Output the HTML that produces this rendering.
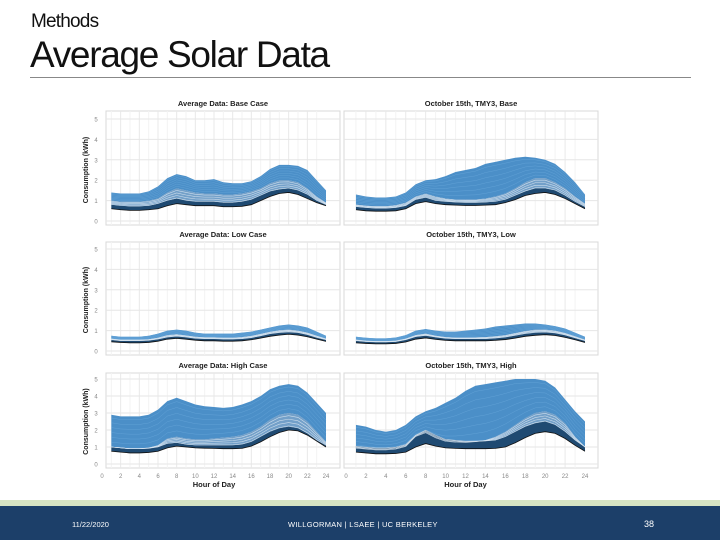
<!DOCTYPE html>
<html><head><meta charset="utf-8"><style>
body{margin:0;width:720px;height:540px;overflow:hidden;background:#fff;font-family:"Liberation Sans",sans-serif;position:relative}
.t1{position:absolute;left:31px;top:11px;font-size:19px;color:#111;letter-spacing:-0.8px}
.t2{position:absolute;left:30px;top:34px;font-size:37px;color:#111;letter-spacing:-1.3px}
.rule{position:absolute;left:30px;top:77px;width:661px;height:1px;background:#888}
.green{position:absolute;left:0;top:500px;width:720px;height:6px;background:#d6e3c3}
.foot{position:absolute;left:0;top:506px;width:720px;height:34px;background:#1c3f69;color:#fff;font-size:7.5px}
</style></head><body>
<div class="t1">Methods</div>
<div class="t2">Average Solar Data</div>
<div class="rule"></div>
<svg id="c" width="720" height="500" style="position:absolute;left:0;top:0"></svg>
<div class="green"></div>
<div class="foot">
<span style="position:absolute;left:72px;top:14px">11/22/2020</span>
<span style="position:absolute;left:288px;top:14px;letter-spacing:0.3px">WILLGORMAN | LSAEE | UC BERKELEY</span>
<span style="position:absolute;left:644px;top:13px;font-size:9px">38</span>
</div>
<script>
const hours=[1,2,3,4,5,6,7,8,9,10,11,12,13,14,15,16,17,18,19,20,21,22,23,24];
const xTicks=[0,2,4,6,8,10,12,14,16,18,20,22,24];
const yTicks=[0,1,2,3,4,5];
const titles=["Average Data: Base Case","October 15th, TMY3, Base","Average Data: Low Case","October 15th, TMY3, Low","Average Data: High Case","October 15th, TMY3, High"];
const baseAvgUpper=[1.4,1.35,1.35,1.35,1.45,1.7,2.1,2.3,2.2,2.0,2.0,2.05,1.9,1.85,1.85,1.95,2.2,2.55,2.75,2.75,2.7,2.5,2.0,1.5];
const baseAvgLower=[1.0,0.95,0.95,0.95,1.0,1.1,1.4,1.6,1.5,1.4,1.35,1.35,1.3,1.3,1.35,1.45,1.6,1.85,2.0,2.0,1.9,1.6,1.2,0.9];
const baseAvgDarkTop=[0.8,0.75,0.72,0.72,0.75,0.85,1.0,1.1,1.0,0.95,0.95,0.95,0.9,0.9,0.95,1.05,1.25,1.45,1.55,1.6,1.5,1.3,1.0,0.8];
const baseAvgDarkBot=[0.6,0.55,0.52,0.52,0.55,0.6,0.75,0.85,0.8,0.75,0.75,0.75,0.7,0.7,0.72,0.8,1.0,1.2,1.35,1.4,1.3,1.1,0.9,0.75];
const baseOctUpper=[1.3,1.2,1.15,1.15,1.2,1.4,1.8,2.0,2.05,2.2,2.4,2.5,2.6,2.8,2.9,3.0,3.1,3.15,3.1,3.0,2.8,2.4,1.9,1.3];
const baseOctLower=[0.8,0.75,0.72,0.72,0.78,0.9,1.2,1.35,1.2,1.1,1.05,1.05,1.05,1.1,1.2,1.35,1.6,1.9,2.1,2.1,1.9,1.6,1.2,0.85];
const baseOctDarkTop=[0.7,0.65,0.62,0.62,0.65,0.75,1.05,1.15,1.0,0.95,0.92,0.9,0.9,0.92,0.95,1.05,1.25,1.45,1.6,1.6,1.5,1.25,0.95,0.7];
const baseOctDarkBot=[0.55,0.5,0.48,0.48,0.5,0.6,0.85,0.95,0.85,0.8,0.78,0.76,0.76,0.78,0.8,0.9,1.05,1.25,1.35,1.4,1.3,1.1,0.85,0.6];
const lowAvgUpper=[0.75,0.7,0.7,0.7,0.75,0.85,1.0,1.05,1.0,0.9,0.85,0.85,0.85,0.85,0.9,0.95,1.05,1.15,1.25,1.3,1.25,1.15,0.95,0.75];
const lowAvgLower=[0.6,0.55,0.55,0.55,0.57,0.65,0.78,0.82,0.76,0.7,0.67,0.67,0.65,0.65,0.68,0.74,0.84,0.94,1.02,1.05,1.0,0.9,0.75,0.6];
const lowAvgDarkTop=[0.55,0.5,0.5,0.5,0.52,0.58,0.68,0.72,0.68,0.62,0.6,0.6,0.58,0.58,0.6,0.65,0.74,0.84,0.9,0.93,0.9,0.8,0.66,0.55];
const lowAvgDarkBot=[0.45,0.42,0.4,0.4,0.42,0.48,0.58,0.62,0.58,0.53,0.5,0.5,0.48,0.48,0.5,0.55,0.63,0.72,0.78,0.82,0.78,0.7,0.58,0.47];
const lowOctUpper=[0.7,0.65,0.62,0.62,0.66,0.78,1.0,1.08,1.0,0.95,0.95,1.0,1.05,1.1,1.2,1.25,1.3,1.35,1.35,1.3,1.22,1.1,0.9,0.7];
const lowOctLower=[0.55,0.5,0.48,0.48,0.5,0.6,0.78,0.85,0.75,0.68,0.65,0.65,0.66,0.68,0.72,0.78,0.88,0.98,1.05,1.05,1.0,0.88,0.72,0.55];
const lowOctDarkTop=[0.5,0.46,0.44,0.44,0.46,0.55,0.7,0.76,0.68,0.62,0.6,0.6,0.6,0.6,0.63,0.68,0.76,0.85,0.9,0.92,0.88,0.78,0.64,0.5];
const lowOctDarkBot=[0.4,0.37,0.35,0.35,0.37,0.44,0.58,0.64,0.57,0.52,0.5,0.5,0.5,0.5,0.52,0.56,0.63,0.72,0.77,0.8,0.76,0.67,0.55,0.42];
const highAvgUpper=[2.9,2.8,2.8,2.8,2.9,3.2,3.7,3.9,3.7,3.5,3.4,3.35,3.3,3.35,3.5,3.7,4.0,4.4,4.6,4.7,4.6,4.2,3.6,3.0];
const highAvgLower=[1.0,0.95,0.9,0.9,0.95,1.1,1.5,1.6,1.5,1.45,1.45,1.5,1.55,1.6,1.7,1.9,2.2,2.6,2.9,3.0,2.9,2.5,1.9,1.3];
const highAvgDarkTop=[1.0,0.95,0.9,0.9,0.92,1.0,1.2,1.25,1.15,1.1,1.1,1.1,1.1,1.1,1.15,1.3,1.6,1.9,2.1,2.2,2.1,1.8,1.4,1.1];
const highAvgDarkBot=[0.75,0.7,0.65,0.65,0.68,0.75,0.95,1.05,1.0,0.95,0.93,0.92,0.9,0.9,0.92,1.05,1.3,1.6,1.85,2.0,1.95,1.7,1.35,1.0];
const highOctUpper=[2.3,2.2,2.0,1.9,2.0,2.3,2.8,3.1,3.3,3.6,3.9,4.3,4.6,4.7,4.8,4.9,5.0,5.0,5.0,4.9,4.5,3.8,3.1,2.5];
const highOctLower=[0.9,0.85,0.8,0.8,0.85,1.0,1.6,1.8,1.5,1.3,1.25,1.25,1.3,1.4,1.6,1.9,2.3,2.7,3.0,3.1,2.9,2.4,1.6,1.0];
const highOctDarkTop=[1.05,1.0,0.95,0.95,1.0,1.15,1.7,2.0,1.7,1.45,1.4,1.35,1.35,1.35,1.4,1.6,1.9,2.2,2.4,2.5,2.3,1.9,1.4,1.0];
const highOctDarkBot=[0.7,0.65,0.6,0.6,0.62,0.7,1.0,1.2,1.05,0.95,0.92,0.9,0.9,0.9,0.92,1.0,1.25,1.55,1.8,1.9,1.8,1.5,1.1,0.75];

const series=[
 [baseAvgUpper,baseAvgLower,baseAvgDarkTop,baseAvgDarkBot],
 [baseOctUpper,baseOctLower,baseOctDarkTop,baseOctDarkBot],
 [lowAvgUpper,lowAvgLower,lowAvgDarkTop,lowAvgDarkBot],
 [lowOctUpper,lowOctLower,lowOctDarkTop,lowOctDarkBot],
 [highAvgUpper,highAvgLower,highAvgDarkTop,highAvgDarkBot],
 [highOctUpper,highOctLower,highOctDarkTop,highOctDarkBot]];
const cols=[{x0:102,x1:326,bl:106,br:340},{x0:346,x1:585,bl:344,br:598}];
const rows=[{y0:221,y5:119,top:111,bot:225,title:106},{y0:351,y5:249,top:242,bot:355,title:237},{y0:464,y5:379,top:373,bot:468,title:368}];
const svg=document.getElementById('c');const NS='http://www.w3.org/2000/svg';
function mk(t,a,p){const e=document.createElementNS(NS,t);for(const k in a)e.setAttribute(k,a[k]);(p||svg).appendChild(e);return e;}
function txt(s,a){const e=mk('text',a);e.textContent=s;return e;}
for(let r=0;r<3;r++)for(let c=0;c<2;c++){
 const i=r*2+c,C=cols[c],R=rows[r];
 const xs=h=>C.x0+(C.x1-C.x0)*h/24, ys=v=>R.y0-(R.y0-R.y5)*v/5;
 const g=mk('g',{});
 
 
 mk('rect',{x:C.bl,y:R.top,width:C.br-C.bl,height:R.bot-R.top,fill:'#fff',stroke:'#d8d8d8','stroke-width':1},g);
 for(let h=1;h<24;h++)mk('line',{x1:xs(h),x2:xs(h),y1:R.top,y2:R.bot,stroke:h%2?'#f3f3f3':'#e8e8e8'},g);
 yTicks.forEach(v=>{mk('line',{x1:C.bl,x2:C.br,y1:ys(v),y2:ys(v),stroke:'#e6e6e6'},g);if(c==0)txt(v,{x:96,y:ys(v)+2.5,'font-size':6,fill:'#888','text-anchor':'middle'});});
 const tt=txt(titles[i],{x:(C.bl+C.br)/2,y:R.title,'font-size':7.5,'font-weight':'bold','text-anchor':'middle',fill:'#222'});
 
 const [U,L,DT,DB]=series[i];
 const path=(a,b)=>'M'+hours.map((h,k)=>xs(h)+','+ys(a[k])).join('L')+'L'+hours.slice().reverse().map((h,k)=>xs(h)+','+ys(b[23-k])).join('L')+'Z';
 const line=a=>'M'+hours.map((h,k)=>xs(h)+','+ys(a[k])).join('L');
 const band=mk('path',{d:path(U,L),fill:'#4b8fc8'},g);
 
 const mid=mk('path',{d:path(L,DT),fill:'#5a8fbf',opacity:0.85},g);
 
 const dark=mk('path',{d:path(DT,DB),fill:'#1f4a72'},g);
 
 for(let f=0.1;f<1;f+=0.15){const m=U.map((u,k)=>u+(L[k]-u)*f);mk('path',{d:line(m),fill:'none',stroke:'#6aa8dc','stroke-width':0.5,opacity:0.7},g);}
 for(let f=0.2;f<1;f+=0.25){const m=L.map((u,k)=>u+(DT[k]-u)*f);mk('path',{d:line(m),fill:'none',stroke:'#dce8f2','stroke-width':0.6,opacity:0.85},g);}
 mk('path',{d:line(DB),fill:'none',stroke:'#111','stroke-width':0.8},g);
 if(r==2){xTicks.forEach(h=>txt(h,{x:xs(h),y:478,'font-size':6,fill:'#888','text-anchor':'middle'}));
  const xt=txt('Hour of Day',{x:(C.x0+C.x1)/2,y:487,'font-size':7.5,'font-weight':'bold','text-anchor':'middle',fill:'#222'});
  }
 if(c==0){const cy=(R.y0+R.y5)/2;const yt=txt('Consumption (kWh)',{x:88,y:cy,'font-size':7,'font-weight':'bold','text-anchor':'middle',fill:'#222',transform:'rotate(-90 88 '+cy+')'});
  }
}
</script>
</body></html>
